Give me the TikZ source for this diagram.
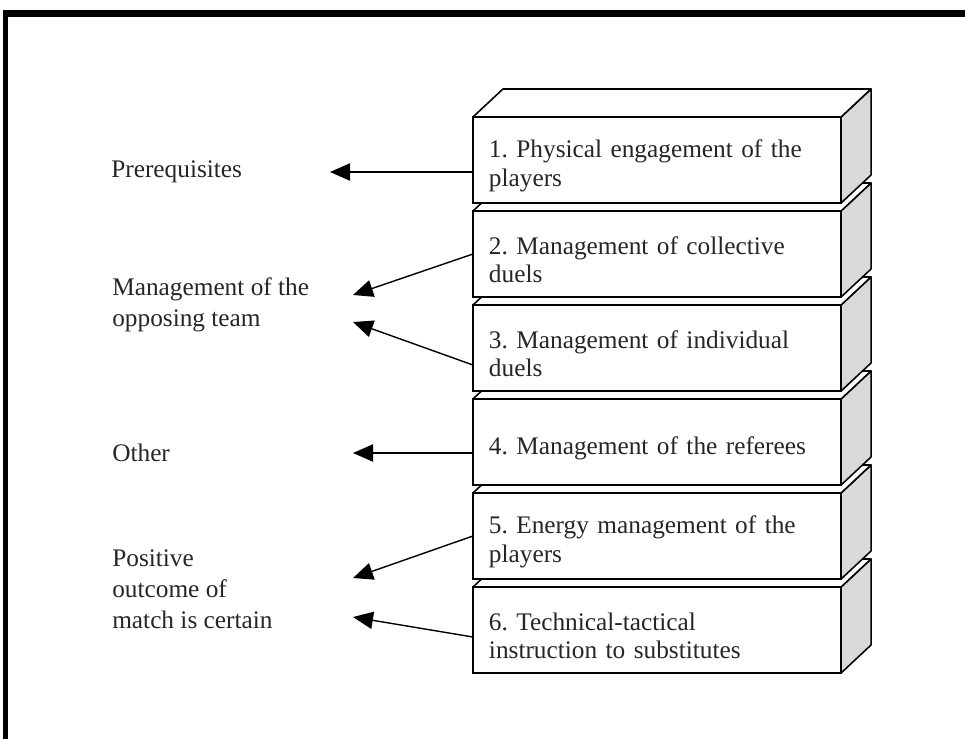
\documentclass[tikz,border=0pt]{standalone}
\usepackage{fontspec}
\setmainfont{Liberation Serif}
\usetikzlibrary{arrows.meta,calc}
\frenchspacing

\begin{document}
\begin{tikzpicture}[x=0.025cm, y=-0.025cm,
		frontbox/.style={rectangle, fill=white, draw=black, line width=1.1pt, outer sep=0pt, minimum width=9.2cm, minimum height=2.15cm, inner xsep=0.4cm, text width=8.4cm, align=left, font=\fontsize{18}{20}\selectfont, text=black!85, execute at begin node={\rule{0pt}{21pt}}},
		sideface/.style={draw=black, line width=1.1pt, line join=round, fill=gray!30},
		topface/.style={draw=black, line width=1.1pt, line join=round, fill=white},
		lab/.style={anchor=west, align=left, inner sep=0pt, font=\fontsize{18}{22}\selectfont, text=black!85},
		arr/.style={-{Triangle[length=0.5cm, width=0.43cm]}, line width=1pt}]
		
		\useasboundingbox (0,0) rectangle (965,739);
		% Frame
		\draw[line width=5pt] (3,13.5) -- (965,13.5);
		\draw[line width=3.5pt] (5.5,11) -- (5.5,739);
		
		% Stack of boxes, bottom one first
		\node[frontbox] (b6) at (657,630) {6. Technical-tactical\\instruction to substitutes};
		\draw[sideface] (b6.north east) -- ++(30,-28) -- ++(0,86) -- (b6.south east) -- cycle;
		\draw[topface] (b6.north west) -- ++(30,-28) -- ++(368,0) -- (b6.north east) -- cycle;
		\node[frontbox] (b5) at (657,536) {5. Energy management of the\\players};
		\draw[sideface] (b5.north east) -- ++(30,-28) -- ++(0,86) -- (b5.south east) -- cycle;
		\draw[topface] (b5.north west) -- ++(30,-28) -- ++(368,0) -- (b5.north east) -- cycle;
		\node[frontbox] (b4) at (657,442) {4. Management of the referees};
		\draw[sideface] (b4.north east) -- ++(30,-28) -- ++(0,86) -- (b4.south east) -- cycle;
		\draw[topface] (b4.north west) -- ++(30,-28) -- ++(368,0) -- (b4.north east) -- cycle;
		\node[frontbox] (b3) at (657,348) {3. Management of individual\\duels};
		\draw[sideface] (b3.north east) -- ++(30,-28) -- ++(0,86) -- (b3.south east) -- cycle;
		\draw[topface] (b3.north west) -- ++(30,-28) -- ++(368,0) -- (b3.north east) -- cycle;
		\node[frontbox] (b2) at (657,254) {2. Management of collective\\duels};
		\draw[sideface] (b2.north east) -- ++(30,-28) -- ++(0,86) -- (b2.south east) -- cycle;
		\draw[topface] (b2.north west) -- ++(30,-28) -- ++(368,0) -- (b2.north east) -- cycle;
		\node[frontbox] (b1) at (657,160) {1. Physical engagement of the\\players};
		\draw[sideface] (b1.north east) -- ++(30,-28) -- ++(0,86) -- (b1.south east) -- cycle;
		\draw[topface] (b1.north west) -- ++(30,-28) -- ++(368,0) -- (b1.north east) -- cycle;
		
		% Outcomes
		\node[lab] (pre) at (111,172) {Prerequisites};
		\node[lab] (opp) at (112,305) {Management of the\\opposing team};
		\node[lab] (oth) at (112,453) {Other};
		\node[lab] (pos) at (112,589) {Positive\\outcome of\\match is certain};
		\coordinate (t1) at (330,172);
		\coordinate (t2) at (353,295);
		\coordinate (t3) at (353,322);
		\coordinate (t4) at (353,453);
		\coordinate (t5) at (353,578);
		\coordinate (t6) at (353,617);
		
		% Connect
		\draw[arr] ($(b1.west)+(0,12)$) -- (t1);
		\draw[arr] (b2.west) -- (t2);
		\draw[arr] ($(b3.west)+(0,17)$) -- (t3);
		\draw[arr] ($(b4.west)+(0,11)$) -- (t4);
		\draw[arr] (b5.west) -- (t5);
		\draw[arr] ($(b6.west)+(0,7)$) -- (t6);
		
	\end{tikzpicture}
\end{document}
